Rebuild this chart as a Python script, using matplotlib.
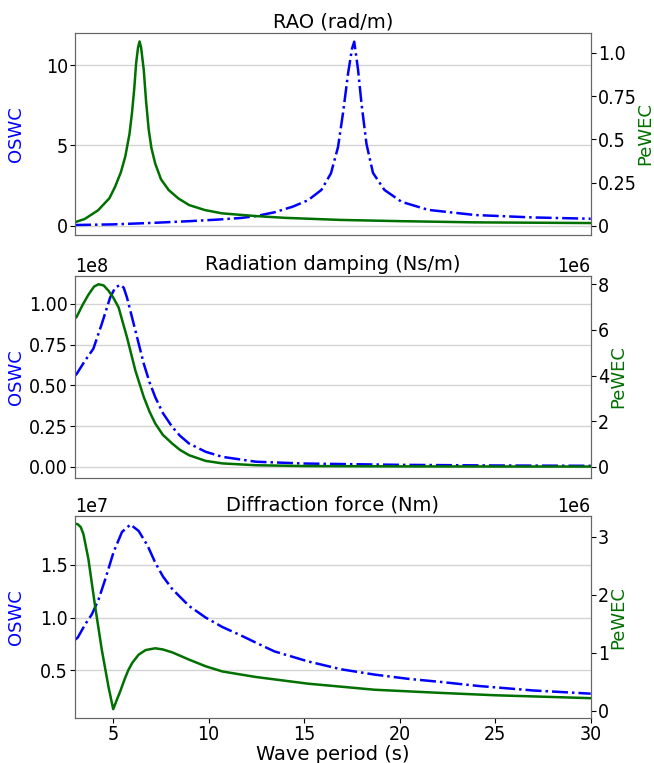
import numpy as np
import matplotlib
matplotlib.use("Agg")
import matplotlib.pyplot as plt

# RAO (rad/m)
T_rao_oswc = [3.0, 5.0, 7.2, 9.0, 10.5, 11.7, 12.5, 13.44, 14.4, 15.2, 15.9, 16.4, 16.77, 17.03,
              17.3, 17.5, 17.62, 17.82, 18.0, 18.26, 18.6, 19.2, 20.1, 21.5, 23.96, 27.0, 30.0]
rao_oswc = [0.06, 0.1, 0.2, 0.3, 0.4, 0.5, 0.62, 0.85, 1.2, 1.6, 2.24, 3.27, 4.9, 7.0,
            9.5, 11.0, 11.45, 9.7, 7.6, 5.1, 3.3, 2.24, 1.5, 1.0, 0.68, 0.53, 0.45]
T_rao_pewec = [3.0, 3.5, 4.2, 4.8, 5.1, 5.4, 5.63, 5.85, 5.98, 6.1, 6.2, 6.3, 6.38, 6.46, 6.6,
               6.72, 6.86, 7.0, 7.2, 7.5, 7.9, 8.4, 8.97, 9.8, 10.7, 11.7, 12.5, 14.0, 16.9,
               20.0, 23.9, 30.0]
rao_pewec = [0.022, 0.04, 0.09, 0.16, 0.227, 0.31, 0.40, 0.53, 0.65, 0.79, 0.94, 1.03, 1.065,
             1.03, 0.90, 0.72, 0.555, 0.45, 0.36, 0.27, 0.208, 0.16, 0.121, 0.092, 0.073, 0.064,
             0.057, 0.047, 0.035, 0.028, 0.021, 0.017]

# Radiation damping (Ns/m)
T_rad_oswc = [3.0, 3.09, 3.53, 3.96, 4.4, 4.84, 5.1, 5.37, 5.55, 5.72, 6.16, 6.6, 6.9, 7.2,
              7.6, 8.09, 8.5, 8.97, 9.84, 10.72, 12.47, 15.0, 20.0, 25.0, 30.0]
rad_oswc = [0.56, 0.571, 0.653, 0.725, 0.877, 1.04, 1.1, 1.118, 1.1, 1.04, 0.837, 0.633, 0.52,
            0.428, 0.33, 0.245, 0.19, 0.143, 0.092, 0.061, 0.031, 0.02, 0.012, 0.008, 0.006]
T_rad_pewec = [3.0, 3.09, 3.4, 3.7, 4.0, 4.23, 4.5, 4.75, 5.0, 5.28, 5.72, 6.16, 6.6, 6.9, 7.2,
               7.6, 8.09, 8.5, 8.97, 9.84, 10.72, 12.47, 15.0, 20.0, 25.0, 30.0]
rad_pewec = [6.5, 6.58, 7.1, 7.54, 7.9, 8.0, 7.95, 7.72, 7.42, 6.99, 5.68, 4.22, 3.06, 2.42, 1.9,
             1.4, 1.02, 0.74, 0.51, 0.26, 0.15, 0.07, 0.035, 0.02, 0.015, 0.012]

# Diffraction force (Nm)
T_dif_oswc = [3.0, 3.14, 3.53, 3.88, 4.23, 4.58, 5.02, 5.46, 5.9, 6.33, 6.8, 7.2, 7.6, 8.09,
              8.97, 9.84, 10.72, 11.7, 12.5, 13.44, 15.2, 16.95, 18.7, 20.46, 22.2, 24.05,
              27.0, 30.0]
dif_oswc = [0.79, 0.81, 0.935, 1.03, 1.17, 1.36, 1.62, 1.81, 1.88, 1.82, 1.68, 1.52, 1.39, 1.27,
            1.11, 1.0, 0.91, 0.83, 0.76, 0.68, 0.585, 0.51, 0.46, 0.42, 0.39, 0.354, 0.31, 0.28]
T_dif_pewec = [3.0, 3.14, 3.3, 3.44, 3.7, 4.05, 4.4, 4.75, 5.0, 5.2, 5.37, 5.6, 5.8, 6.0, 6.33,
               6.7, 7.2, 7.6, 8.09, 8.97, 9.84, 10.72, 12.47, 15.2, 18.7, 22.2, 25.0, 30.0]
dif_pewec = [3.23, 3.22, 3.17, 3.05, 2.62, 1.81, 1.06, 0.42, 0.03, 0.2, 0.34, 0.55, 0.71, 0.83,
             0.97, 1.05, 1.08, 1.06, 1.01, 0.885, 0.77, 0.68, 0.585, 0.47, 0.365, 0.31, 0.27,
             0.22]

titles = ["RAO (rad/m)", "Radiation damping (Ns/m)", "Diffraction force (Nm)"]

plt.rcParams['font.size'] = 14
plt.rcParams['font.stretch'] = 'condensed'
plt.rcParams['xtick.labelsize'] = 14
plt.rcParams['ytick.labelsize'] = 14
plt.rcParams['xtick.major.pad'] = 1.5
plt.rcParams['ytick.major.pad'] = 1.5
fig = plt.figure(figsize=(6.54, 7.63), dpi=100)

panels = [
    (T_rao_oswc, np.array(rao_oswc), T_rao_pewec, np.array(rao_pewec), (-0.56, 12.0), (-0.052, 1.115)),
    (T_rad_oswc, np.array(rad_oswc) * 1e8, T_rad_pewec, np.array(rad_pewec) * 1e6,
     (-0.069e8, 1.173e8), (-0.49e6, 8.37e6)),
    (T_dif_oswc, np.array(dif_oswc) * 1e7, T_dif_pewec, np.array(dif_pewec) * 1e6,
     (0.047e7, 1.96e7), (-0.127e6, 3.36e6)),
]
bottoms = [0.692, 0.3735, 0.0586]

for i, (tb, yb, tg, yg, lim1, lim2) in enumerate(panels):
    ax = fig.add_axes([0.1147, bottoms[i], 0.7885, 0.265])
    ax.plot(tb, yb, color='#0000ff', linestyle='-.', linewidth=1.8)
    ax.set_xlim(3, 30)
    ax.set_ylim(*lim1)
    ax.set_ylabel("OSWC", color='#0000ff', fontsize=13, fontstretch='normal')
    ax.yaxis.set_label_coords(-0.097, 0.5)
    ax.yaxis.grid(True, color='#d3d3d3', linewidth=1)
    ax.set_title(titles[i], fontsize=14, pad=4, fontstretch='normal')
    if i == 1:
        ax.set_yticks([0, 0.25e8, 0.5e8, 0.75e8, 1.0e8])
    ax2 = ax.twinx()
    ax2.plot(tg, yg, color='#007000', linewidth=1.8)
    ax2.set_ylim(*lim2)
    ax2.set_ylabel("PeWEC", color='#007000', fontsize=13, fontstretch='normal', labelpad=0)
    if i == 0:
        ax2.set_yticks([0, 0.25, 0.5, 0.75, 1.0])
        ax2.set_yticklabels(["0", "0.25", "0.5", "0.75", "1.0"])
    for a in (ax, ax2):
        for s in a.spines.values():
            s.set_color('#666666')
    if i < 2:
        ax.tick_params(axis='x', bottom=False, labelbottom=False)
    else:
        ax.set_xticks([5, 10, 15, 20, 25, 30])
        ax.set_xlabel("Wave period (s)", fontstretch='normal')
        ax.xaxis.set_label_coords(0.5, -0.13)

fig.savefig("out.png", dpi=100)
